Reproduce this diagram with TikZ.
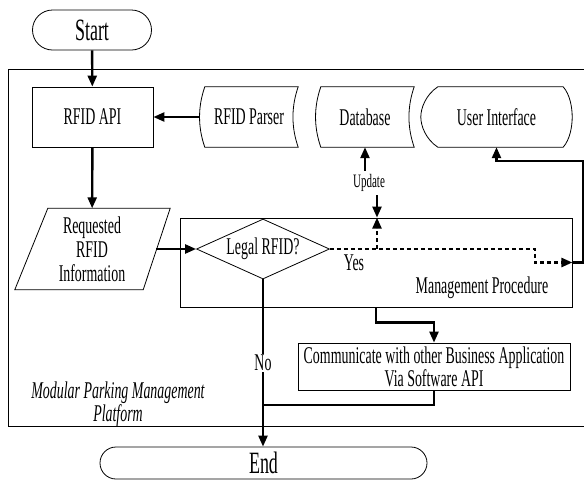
\documentclass[tikz,border=0pt]{standalone}
\usepackage{fontspec}
\setmainfont{Liberation Serif}[FakeStretch=0.58]
\usetikzlibrary{arrows.meta,shapes.geometric,calc}
\newcommand{\boxfont}{\fontsize{24}{21.5}\selectfont}
\newcommand{\stackfont}{\fontsize{24}{24}\selectfont}
\newcommand{\termfont}{\fontsize{31}{31}\selectfont}
\newcommand{\smallfont}{\fontsize{19}{19}\selectfont}

\begin{document}
\begin{tikzpicture}[x=1pt,y=-1pt,
	arr/.style={line width=2.4pt,-{Triangle[length=11pt,width=9pt]}},
	dasharr/.style={arr,dash pattern=on 4pt off 3pt},
	flowline/.style={line width=2.4pt},
	outline/.style={line width=0.8pt},
	slot/.style={inner sep=0pt,minimum width=#1,minimum height=60pt,font=\boxfont}]
	\useasboundingbox (0,0) rectangle (584,480);
	% platform frame
	\draw[outline] (8,69) rectangle (590,426);
	\node[font=\boxfont\itshape,align=center] (platlabel) at (118,404) {Modular Parking Management\\Platform};
	% terminals
	\node[draw,outline,rounded corners=20pt,minimum width=119pt,minimum height=40pt,font=\termfont] (start) at (92,30) {Start};
	\node[draw,outline,rounded corners=16pt,minimum width=327pt,minimum height=32pt,inner sep=0pt,font=\termfont] (end) at (263.5,463) {End};
	% top row
	\node[draw,outline,slot=121pt] (api) at (92.5,117) {RFID API};
	\node[slot=98pt] (parser) at (249,117) {RFID Parser};
	\node[slot=98pt] (db) at (365,117) {Database};
	\node[slot=151pt] (ui) at (496.5,117) {User Interface};
	\draw[outline] ($(parser.north west)+(5,0)$) -- (parser.north east)
		.. controls +(-7,20) and +(-7,-20) .. (parser.south east)
		-- ($(parser.south west)+(5,0)$)
		.. controls +(-7,-20) and +(-7,20) .. ($(parser.north west)+(5,0)$) -- cycle;
	\draw[outline] ($(db.north west)+(5,0)$) -- (db.north east)
		.. controls +(-7,20) and +(-7,-20) .. (db.south east)
		-- ($(db.south west)+(5,0)$)
		.. controls +(-7,-20) and +(-7,20) .. ($(db.north west)+(5,0)$) -- cycle;
	\draw[outline] ($(ui.north west)+(17,0)$) -- ($(ui.north east)+(-9,0)$)
		.. controls +(7,8) and +(0,-9) .. (ui.east)
		.. controls +(0,9) and +(7,-8) .. ($(ui.south east)+(-9,0)$)
		-- ($(ui.south west)+(17,0)$)
		.. controls +(-12,-8) and +(0,9) .. (ui.west)
		.. controls +(0,-9) and +(-12,8) .. ($(ui.north west)+(17,0)$) -- cycle;
	% requested information
	\node[inner sep=0pt,minimum width=128pt,minimum height=81pt,align=center,font=\stackfont] (req) at (92,249) {Requested\\RFID\\Information};
	\draw[outline] ($(req.north west)+(20,0)$) -- ($(req.north east)+(14,0)$)
		-- ($(req.south east)+(-13,0)$) -- ($(req.south west)+(-13,0)$) -- cycle;
	% management procedure
	\node[draw,outline,minimum width=392pt,minimum height=89pt] (mgmt) at (376,262.5) {};
	\node[font=\boxfont] (mgmtlabel) at (482,288) {Management Procedure};
	\node[draw,outline,diamond,aspect=2.2,inner sep=0pt,minimum width=133pt,minimum height=60pt,font=\boxfont] (legal) at (263,249) {Legal RFID?};
	\node[font=\boxfont] (yes) at (354,263) {Yes};
	\node[font=\smallfont] (upd) at (369,183) {Update};
	\node[draw,outline,minimum width=272pt,minimum height=47pt,inner sep=1pt,align=center,font=\boxfont] (comm) at (434,366.5) {Communicate with other Business Application\\Via Software API};
	\coordinate (jog) at (535,249);
	\coordinate (updfoot) at (377,249);
	\coordinate (uiturn) at (496.5,161);
	\coordinate (merge) at (263,405);
	% connectors
	\draw[arr] (start) -- (api);
	\draw[arr] (parser) -- (api);
	\draw[arr] (api) -- (req);
	\draw[arr] (req) -- (legal);
	\draw[dasharr] (legal.east) -- (jog) |- (mgmt.east);
	\draw[dasharr] (updfoot) -- (updfoot |- mgmt.north);
	\draw[arr] (upd.north -| db.south) -- (db.south);
	\draw[arr] (upd.south -| updfoot) -- (updfoot |- mgmt.north);
	\draw[arr] (mgmt.east) -- ++(11,0) |- (uiturn) -- (ui.south);
	\draw[arr] (mgmt.south) -- ++(0,15) -| (comm.north);
	\draw[flowline] (comm.south) |- (merge);
	\draw[arr] (legal.south) -- node[fill=white,inner sep=1pt,font=\boxfont] (no) {No} (legal.south |- end.north);
\end{tikzpicture}
\end{document}
